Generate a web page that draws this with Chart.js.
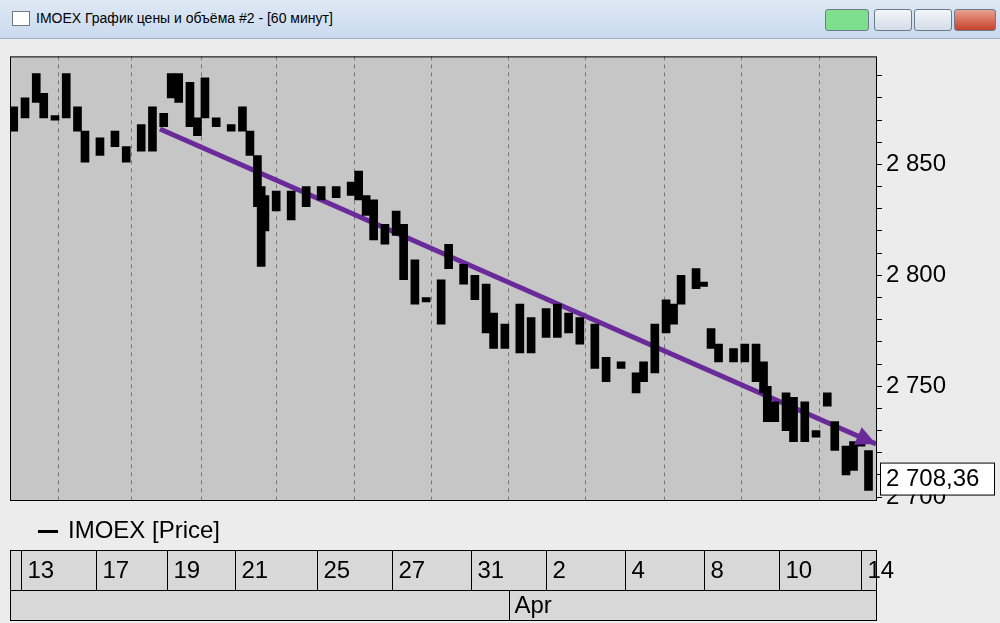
<!DOCTYPE html>
<html><head><meta charset="utf-8">
<script src="https://cdn.jsdelivr.net/npm/chart.js@4"></script>
<style>
body{margin:0;width:1000px;height:623px;overflow:hidden;background:#ececec;font-family:"Liberation Sans",Arial,sans-serif}
#title{position:absolute;left:0;top:0;width:1000px;height:38px;background:linear-gradient(#dfe9f5,#c9d9ee);border-bottom:1px solid #9fb1c9}
#title span{position:absolute;left:36px;top:10px;font-size:14px;color:#000}
#ico{position:absolute;left:12px;top:11px;width:16px;height:13px;border:1px solid #777;background:#fff}
.btn{position:absolute;top:9px;height:20px;border:1px solid #6d7a8c;border-radius:3px;background:linear-gradient(#f3f6fa,#d4dce8)}
#cv{position:absolute;left:0;top:38px}
</style></head><body>
<div id="title"><div id="ico"></div><span>IMOEX График цены и объёма #2 - [60 минут]</span>
<div class="btn" style="left:825px;width:42px;background:#7ee08e"></div>
<div class="btn" style="left:874px;width:36px"></div>
<div class="btn" style="left:914px;width:36px"></div>
<div class="btn" style="left:954px;width:40px;background:linear-gradient(#e8a090,#c8412a)"></div>
</div>
<canvas id="cv" width="1000" height="585"></canvas>
<script>
// bar index (hourly), high and low
const barT = [1,4,7,9,12,15,18,20,24,28,31,35,38,41,43,45,48,50,52,55,59,62,64,66,67,68,71,75,79,83,87,91,93,95,97,100,103,105,108,111,115,117,121,124,127,129,132,136,139,143,146,149,152,156,159,163,167,169,172,175,177,179,183,185,187,189,193,196,199,201,202,204,207,209,212,215,218,220,223,225,227,229];
const highs = [2876,2880,2891,2882,2872,2891,2876,2865,2862,2865,2858,2868,2876,2873,2891,2891,2887,2871,2889,2871,2868,2876,2865,2854,2840,2836,2838,2838,2840,2840,2840,2842,2847,2836,2834,2823,2829,2823,2807,2790,2798,2814,2805,2800,2796,2783,2778,2787,2781,2785,2787,2783,2781,2778,2763,2761,2756,2761,2778,2789,2787,2800,2803,2797,2776,2769,2767,2769,2769,2761,2750,2743,2747,2745,2743,2730,2747,2734,2723,2725,2725,2721];
const lows = [2865,2871,2878,2871,2870,2871,2865,2851,2854,2858,2851,2856,2856,2867,2880,2878,2867,2863,2871,2867,2865,2865,2854,2831,2804,2820,2829,2825,2831,2834,2835,2836,2834,2827,2816,2814,2818,2798,2787,2788,2778,2803,2796,2789,2774,2767,2767,2765,2765,2772,2772,2774,2769,2758,2752,2758,2747,2752,2756,2774,2778,2787,2794,2795,2767,2761,2761,2761,2752,2747,2734,2734,2730,2725,2725,2727,2741,2721,2710,2712,2723,2703];
const trendX = [40, 231];
const trendY = [2866, 2724];
const lastPrice = 2708.36;
const dayT = [3,23,42,60,82,102,123,143,164,185,205,227];
const dayLabels = ['13','17','19','21','25','27','31','2','4','8','10','14'];
const monthT = 133, monthLabel = 'Apr';

const fmt = v => {
  const s = Math.abs(v).toFixed(v % 1 ? 2 : 0).replace('.', ',');
  const [i, d] = s.split(',');
  return i.replace(/\B(?=(\d{3})+(?!\d))/g, ' ') + (d ? ',' + d : '');
};

const decor = {
  id: 'decor',
  beforeDraw(c) {
    const a = c.chartArea, x = c.ctx;
    x.save();
    x.fillStyle = '#c6c6c6';
    x.fillRect(a.left, a.top, a.right - a.left, a.bottom - a.top);
    x.restore();
  },
  afterDraw(c) {
    const a = c.chartArea, x = c.ctx, xs = c.scales.x, ys = c.scales.y;
    x.save();
    // arrow head
    const x1 = xs.getPixelForValue(trendX[0]), y1 = ys.getPixelForValue(trendY[0]);
    const x2 = xs.getPixelForValue(trendX[1]), y2 = ys.getPixelForValue(trendY[1]);
    const ang = Math.atan2(y2 - y1, x2 - x1);
    x.fillStyle = '#6a2a9a';
    x.beginPath();
    x.moveTo(x2, y2);
    x.lineTo(x2 - 22 * Math.cos(ang - 0.45), y2 - 22 * Math.sin(ang - 0.45));
    x.lineTo(x2 - 22 * Math.cos(ang + 0.45), y2 - 22 * Math.sin(ang + 0.45));
    x.fill();
    // plot frame
    x.strokeStyle = '#000'; x.lineWidth = 1;
    x.strokeRect(a.left + 0.5, a.top + 0.5, a.right - a.left, a.bottom - a.top);
    // last price box
    const py = ys.getPixelForValue(lastPrice);
    x.font = '24px "Liberation Sans", Arial';
    x.fillStyle = '#fff';
    x.fillRect(a.right + 4, py - 16, 114, 32);
    x.strokeRect(a.right + 4.5, py - 15.5, 114, 32);
    x.fillStyle = '#000'; x.textBaseline = 'middle';
    x.fillText(fmt(lastPrice), a.right + 10, py + 1);
    // legend
    const ly = a.bottom + 31;
    x.fillRect(38, ly - 1, 20, 3);
    x.fillText('IMOEX [Price]', 68, ly);
    // date rows
    const r1 = a.bottom + 50, r2 = r1 + 40, r3 = r2 + 30;
    x.fillStyle = '#d8d8d8';
    x.fillRect(10, r1, a.right - 10, r3 - r1);
    x.strokeStyle = '#000';
    x.strokeRect(10.5, r1 + 0.5, a.right - 10, r2 - r1);
    x.strokeRect(10.5, r2 + 0.5, a.right - 10, r3 - r2);
    x.fillStyle = '#000';
    dayT.forEach((t, i) => {
      const px = Math.round(xs.getPixelForValue(t)) + 0.5;
      x.beginPath(); x.moveTo(px, r1); x.lineTo(px, r2); x.stroke();
      x.fillText(dayLabels[i], px + 6, (r1 + r2) / 2 + 1);
    });
    const mx = Math.round(xs.getPixelForValue(monthT)) + 0.5;
    x.beginPath(); x.moveTo(mx, r2); x.lineTo(mx, r3); x.stroke();
    x.fillText(monthLabel, mx + 5, (r2 + r3) / 2 + 1);
    x.restore();
  }
};

new Chart(document.getElementById('cv'), {
  data: {
    datasets: [{
      type: 'bar',
      data: barT.map((t, i) => ({ x: t, y: [lows[i], highs[i]] })),
      backgroundColor: '#000',
      barThickness: 8,
      minBarLength: 3
    }, {
      type: 'line',
      data: trendX.map((t, i) => ({ x: t, y: trendY[i] })),
      borderColor: '#6a2a9a',
      borderWidth: 5,
      pointRadius: 0
    }]
  },
  options: {
    responsive: false,
    animation: false,
    layout: { padding: { left: 10, top: 0, bottom: 123, right: 0 } },
    plugins: { legend: { display: false }, tooltip: { enabled: false } },
    scales: {
      x: {
        type: 'linear', min: 0, max: 231, offset: false,
        afterBuildTicks: s => { s.ticks = dayT.map(v => ({ value: v })); },
        afterFit: s => { s.height = 0; },
        ticks: { display: false },
        border: { display: false, dash: [4, 4] },
        grid: { color: '#777', tickLength: 0, lineWidth: 1 }
      },
      y: {
        position: 'right', min: 2698.7, max: 2898.7,
        afterBuildTicks: s => {
          const t = [];
          for (let v = 2700; v <= 2890; v += 10) t.push({ value: v });
          s.ticks = t;
        },
        afterFit: s => { s.width = 124; },
        ticks: {
          color: '#000', padding: 4, autoSkip: false,
          font: { size: 24, family: '"Liberation Sans", Arial' },
          callback: v => v % 50 === 0 ? fmt(v) : ''
        },
        border: { display: false },
        grid: { drawOnChartArea: false, color: '#000', tickLength: 6 }
      }
    }
  },
  plugins: [decor]
});
</script>
</body></html>
